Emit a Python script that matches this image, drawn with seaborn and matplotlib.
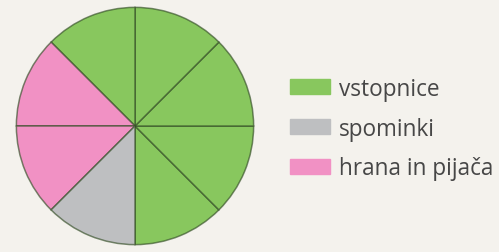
import matplotlib
matplotlib.use("Agg")
import matplotlib.pyplot as plt
import matplotlib.patches as mpatches
import seaborn as sns

# Data: share of spending, in eighths of the circle
categories = ["vstopnice", "spominki", "hrana in pijača"]
eighths = [5, 1, 2]
colors = ["#88c75e", "#bebfc1", "#f191c4"]

# drawing order around the circle (counterclockwise from the bottom)
draw_order = [0, 2, 1]

sns.set_style("white")
plt.rcParams["font.family"] = ["Open Sans", "DejaVu Sans"]
bg = "#f4f2ed"

fig = plt.figure(figsize=(4.99, 2.53), dpi=100, facecolor=bg)
ax = fig.add_axes([14 / 499, 5 / 253, 242 / 499, 242 / 253])
ax.set_facecolor(bg)

# one wedge per eighth so the divider lines show
sizes = []
wedge_colors = []
for i in draw_order:
    sizes += [1] * eighths[i]
    wedge_colors += [colors[i]] * eighths[i]

ax.pie(sizes, colors=wedge_colors, startangle=-90, counterclock=True,
       radius=1,
       wedgeprops=dict(edgecolor=(0.2, 0.3, 0.15, 0.65), linewidth=1.1))
ax.set_xlim(-1.02, 1.02)
ax.set_ylim(-1.02, 1.02)
ax.set_aspect("equal")
ax.axis("off")

handles = [mpatches.Patch(color=c, label=l) for c, l in zip(colors, categories)]
leg = fig.legend(handles=handles, loc="center left",
                 bbox_to_anchor=(290 / 499, 0.488), borderaxespad=0,
                 borderpad=0, frameon=False, fontsize=16.3,
                 handlelength=1.75, handleheight=0.62, handletextpad=0.42,
                 labelspacing=0.7)
for t in leg.get_texts():
    t.set_color("#474747")

fig.savefig("out.png", dpi=100, facecolor=bg)
